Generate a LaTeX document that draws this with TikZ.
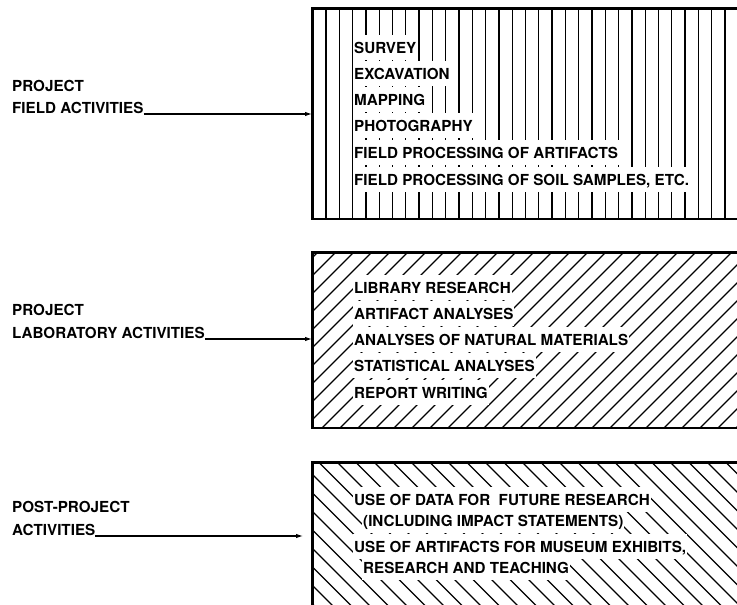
\documentclass[tikz,border=0pt]{standalone}
\usepackage{fontspec}
\setmainfont{TeX Gyre Heros}
\usetikzlibrary{arrows.meta}

\tikzset{
  box/.style={draw, line width=1.6pt, anchor=north west, minimum width=433pt, inner sep=0pt},
  hatch/.style={line width=1.3pt},
  item/.style={anchor=base west, fill=white, inner xsep=1pt, inner ysep=7pt, text height=11pt, text depth=0pt},
  lbl/.style={anchor=base west, inner sep=0pt},
  feed/.style={line width=1.1pt, -{Latex[length=7pt,width=4.5pt]}},
}

\begin{document}
\begin{tikzpicture}[x=1pt, y=-1pt, font=\fontsize{15.2}{18}\selectfont\bfseries]
\useasboundingbox[fill=white] (0,0) rectangle (737,605);

% the three activity boxes
\node[box, minimum height=210pt] (field) at (312,8) {};
\node[box, minimum height=175pt] (lab) at (312,252) {};
\node[box, minimum height=165pt] (post) at (312,462) {};

% hatching
\begin{scope}
  \clip (field.north west) rectangle (field.south east);
  \foreach \x in {326,339.3,...,745}
    \draw[hatch] (\x,0) -- (\x,230);
\end{scope}
\begin{scope}
  \clip (lab.north west) rectangle (lab.south east);
  \foreach \x in {122,140,...,760}
    \draw[hatch] (\x,430) -- (\x+180,250);
\end{scope}
\begin{scope}
  \clip (post.north west) rectangle (post.south east);
  \foreach \x in {150,168.5,...,760}
    \draw[hatch] (\x,460) -- (\x+170,630);
\end{scope}

% field items
\node[item] (survey) at (353,53) {SURVEY};
\node[item] (excav) at (353,79) {EXCAVATION};
\node[item] (mapping) at (353,105) {MAPPING};
\node[item] (photo) at (353,131) {PHOTOGRAPHY};
\node[item] (artproc) at (353,158) {FIELD PROCESSING OF ARTIFACTS};
\node[item] (soilproc) at (353,185) {FIELD PROCESSING OF SOIL SAMPLES, ETC.};

% laboratory items
\node[item] (library) at (353,293) {LIBRARY RESEARCH};
\node[item] (artan) at (353,319) {ARTIFACT ANALYSES};
\node[item] (natan) at (353,345) {ANALYSES OF NATURAL MATERIALS};
\node[item] (statan) at (353,371) {STATISTICAL ANALYSES};
\node[item] (report) at (353,398) {REPORT WRITING};

% post-project items
\node[item] (data) at (353,505) {USE OF DATA FOR\ \ FUTURE RESEARCH};
\node[item] (impact) at (362,526) {(INCLUDING IMPACT STATEMENTS)};
\node[item] (museum) at (353,552) {USE OF ARTIFACTS FOR MUSEUM EXHIBITS,};
\node[item] (teach) at (362,573) {RESEARCH AND TEACHING};

% box borders on top
\draw[line width=1.6pt] (field.north west) rectangle (field.south east);
\draw[line width=1.6pt] (lab.north west) rectangle (lab.south east);
\draw[line width=1.6pt] (post.north west) rectangle (post.south east);

% labels and arrows
\node[lbl] (fieldA) at (12,91) {PROJECT};
\node[lbl] (fieldB) at (12,113) {FIELD ACTIVITIES};
\node[lbl] (labA) at (12,315) {PROJECT};
\node[lbl] (labB) at (12,338) {LABORATORY ACTIVITIES};
\node[lbl] (postA) at (12,512) {POST-PROJECT};
\node[lbl] (postB) at (12,535) {ACTIVITIES};

\draw[feed] ([yshift=-1pt]fieldB.base east) -- ([yshift=-1pt]fieldB.base east -| field.west);
\draw[feed] ([yshift=-1pt]labB.base east) -- ([yshift=-1pt]labB.base east -| lab.west);
\draw[feed, shorten >=9pt] ([yshift=-1pt]postB.base east) -- ([yshift=-1pt]postB.base east -| post.west);
\end{tikzpicture}
\end{document}
